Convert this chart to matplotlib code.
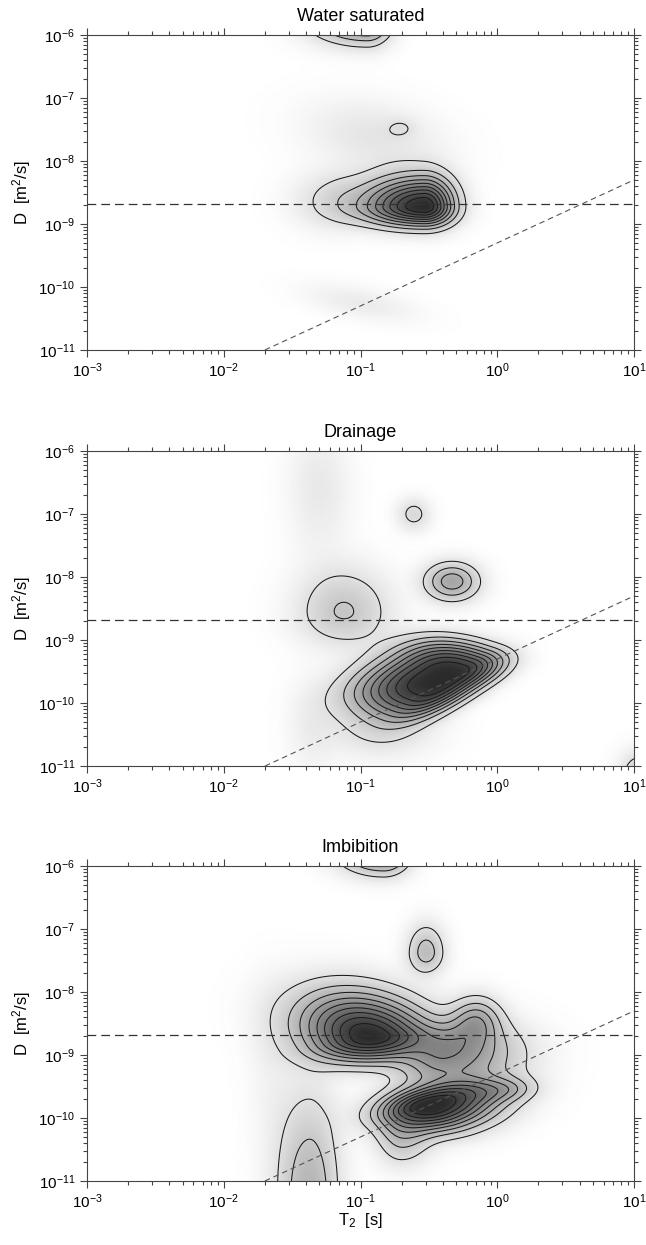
import numpy as np
import matplotlib
matplotlib.use("Agg")
import matplotlib.pyplot as plt
from matplotlib.colors import LinearSegmentedColormap, PowerNorm
from matplotlib.ticker import NullFormatter

plt.rcParams['font.family'] = ['Liberation Sans', 'DejaVu Sans']
plt.rcParams['mathtext.default'] = 'regular'

titles = ['Water saturated', 'Drainage', 'Imbibition']

# reference lines: free water diffusion and the oil line D = lambda * T2
d_water = 2.1e-9
oil_lambda = 5e-10
oil_t2 = [0.02, 10.0]

# axis decades
t2_decades = [-3, -2, -1, 0, 1]
d_decades = [-11, -10, -9, -8, -7, -6]

# peaks, in decades (log10 T2, log10 D)
# cx, cy, sx_lo, sx_hi, sy_lo, sy_hi, px, py, angle, height
water_peaks = [
    (-0.53, -8.725, 0.30, 0.14, 0.20, 0.31, 2, 2, 0, 1.00),
    (-1.20, -8.62, 0.20, 0.15, 0.30, 0.30, 2, 2, 0, 0.10),
    (-0.90, -7.60, 0.30, 0.30, 0.40, 0.40, 2, 2, 30, 0.085),
    (-0.70, -7.47, 0.07, 0.07, 0.10, 0.10, 2, 2, 0, 0.055),
    (-1.00, -10.25, 0.30, 0.30, 0.15, 0.15, 2, 2, -30, 0.06),
    (-0.95, -5.75, 0.25, 0.11, 0.24, 0.24, 2, 2, 0, 0.55),
]
drain_peaks = [
    (-0.38, -9.59, 0.55, 0.40, 0.20, 0.36, 3, 2.5, 55, 1.00),
    (-0.85, -10.4, 0.25, 0.25, 0.30, 0.30, 2, 2, 0, 0.12),
    (-1.12, -8.55, 0.22, 0.22, 0.35, 0.45, 2, 2, 0, 0.21),
    (-0.33, -8.07, 0.13, 0.13, 0.20, 0.20, 2, 2, 0, 0.36),
    (-0.61, -7.00, 0.08, 0.08, 0.17, 0.17, 2, 2, 0, 0.13),
    (1.05, -11.15, 0.10, 0.10, 0.25, 0.25, 2, 2, 0, 0.20),
    (-1.30, -6.60, 0.15, 0.15, 0.70, 0.70, 2, 2, 0, 0.07),
    (-1.35, -10.4, 0.12, 0.12, 0.50, 0.50, 2, 2, 0, 0.05),
]
imb_peaks = [
    (-0.93, -8.71, 0.30, 0.30, 0.25, 0.47, 2, 2, 20, 1.00),
    (-0.49, -9.80, 0.26, 0.33, 0.26, 0.18, 2, 2, 35, 1.00),
    (-0.35, -9.00, 0.20, 0.32, 0.35, 0.35, 2, 2, -20, 0.45),
    (-0.15, -8.45, 0.12, 0.12, 0.25, 0.25, 2, 2, 0, 0.30),
    (0.05, -9.55, 0.20, 0.15, 0.12, 0.12, 2, 2, 20, 0.20),
    (-0.70, -10.30, 0.12, 0.14, 0.30, 0.30, 2, 2, 0, 0.20),
    (-0.52, -7.37, 0.09, 0.09, 0.22, 0.29, 2, 2, 0, 0.25),
    (-0.83, -5.78, 0.20, 0.12, 0.22, 0.22, 2, 2, 0, 0.50),
    (-1.37, -11.25, 0.16, 0.14, 1.05, 1.05, 2, 2, 0, 0.29),
    (-1.65, -9.30, 0.12, 0.12, 0.90, 0.90, 2, 2, 0, 0.03),
]
all_peaks = [water_peaks, drain_peaks, imb_peaks]

lt = np.linspace(-3, 1, 401)
ld = np.linspace(-11, -6, 301)
LT, LD = np.meshgrid(lt, ld)


def surface(peaks):
    z = np.zeros_like(LT)
    for cx, cy, sxl, sxh, syl, syh, px, py, ang, amp in peaks:
        a = np.deg2rad(ang)
        dx, dy = LT - cx, LD - cy
        u = dx * np.cos(a) + dy * np.sin(a)
        v = -dx * np.sin(a) + dy * np.cos(a)
        su = np.where(u < 0, sxl, sxh)
        sv = np.where(v < 0, syl, syh)
        z += amp * np.exp(-0.5 * (np.abs(u / su) ** px + np.abs(v / sv) ** py))
    return z


def minor_ticks(decades):
    return [m * 10.0 ** d for d in decades[:-1] for m in range(2, 10)]


gray = LinearSegmentedColormap.from_list('g', ['#ffffff', '#2b2b2b'])
levels = np.arange(0.1, 0.95, 0.1)

fig = plt.figure(figsize=(6.46, 12.45), dpi=100)
bottoms = [0.7189, 0.3847, 0.0514]
for i in range(3):
    ax = fig.add_axes([0.1347, bottoms[i], 0.8467, 0.253])
    z = surface(all_peaks[i])
    ax.pcolormesh(10 ** lt, 10 ** ld, z, cmap=gray,
                  norm=PowerNorm(0.85, vmin=0, vmax=1, clip=True),
                  shading='gouraud', rasterized=True)
    ax.contour(10 ** LT, 10 ** LD, z, levels=levels, colors='#1a1a1a',
               linewidths=0.75)
    ax.axhline(d_water, color='#333333', lw=0.9, dashes=(7, 4))
    t2 = np.array(oil_t2)
    ax.plot(t2, oil_lambda * t2, color='#555555', lw=0.8, dashes=(5, 3.5))
    ax.set_xscale('log')
    ax.set_yscale('log')
    ax.set_xticks([10.0 ** d for d in t2_decades])
    ax.set_yticks([10.0 ** d for d in d_decades])
    ax.set_xticks(minor_ticks(t2_decades), minor=True)
    ax.set_yticks(minor_ticks(d_decades), minor=True)
    ax.xaxis.set_minor_formatter(NullFormatter())
    ax.yaxis.set_minor_formatter(NullFormatter())
    ax.set_xlim(1e-3, 1e1)
    ax.set_ylim(1e-11, 1e-6)
    ax.tick_params(which='both', direction='out', top=True, right=True,
                   color='#444444', width=0.8, labelsize=11)
    ax.tick_params(which='major', length=5)
    ax.tick_params(which='minor', length=3)
    for s in ax.spines.values():
        s.set_color('#444444')
    ax.set_title(titles[i], fontsize=13, pad=10)
    ax.set_ylabel(r'D  [m$^2$/s]', fontsize=12, labelpad=4)
    if i == 2:
        ax.set_xlabel(r'T$_2$  [s]', fontsize=12, labelpad=0)

fig.savefig('out.png', dpi=100)
